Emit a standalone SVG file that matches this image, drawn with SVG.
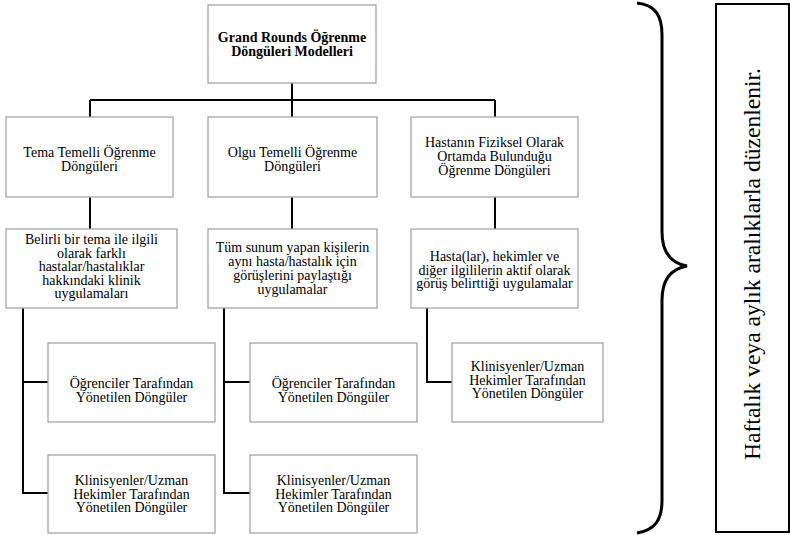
<svg xmlns="http://www.w3.org/2000/svg" width="791" height="535" viewBox="0 0 791 535">
<style>
.box{fill:#fff;stroke:#a6a6a6;stroke-width:1.3}
.t{font-family:"Liberation Serif","Times New Roman",serif;font-size:14px;fill:#000;text-anchor:middle}
.b{font-weight:bold}
.c{fill:none;stroke:#000;stroke-width:2}
</style>
<rect width="791" height="535" fill="#fff"/>
<g id="connectors">
<path class="c" d="M292,83 V100 M90,100 H495 M90,100 V117 M292,100 V117 M495,100 V117"/>
<path class="c" d="M90,197 V229 M292,197 V229 M495,197 V229"/>
<path class="c" d="M23,308 V493 H48 M23,382 H48"/>
<path class="c" d="M224,308 V493 H250 M224,382 H250"/>
<path class="c" d="M427,308 V382 H452"/>
</g>
<g id="root">
<rect class="box" x="208" y="5" width="168" height="78"/>
<text class="t b"><tspan x="292" y="42">Grand Rounds Öğrenme</tspan><tspan x="292" y="56">Döngüleri Modelleri</tspan></text>
</g>
<g id="tema">
<rect class="box" x="6" y="117" width="167" height="80"/>
<text class="t"><tspan x="89.5" y="157">Tema Temelli  Öğrenme</tspan><tspan x="89.5" y="171">Döngüleri</tspan></text>
</g>
<g id="olgu">
<rect class="box" x="208" y="117" width="169" height="80"/>
<text class="t"><tspan x="292.5" y="157">Olgu Temelli  Öğrenme</tspan><tspan x="292.5" y="171">Döngüleri</tspan></text>
</g>
<g id="hasta">
<rect class="box" x="411" y="117" width="167" height="80"/>
<text class="t"><tspan x="494.5" y="147">Hastanın Fiziksel Olarak</tspan><tspan x="494.5" y="161">Ortamda Bulunduğu</tspan><tspan x="494.5" y="175">Öğrenme Döngüleri</tspan></text>
</g>
<g id="tema-desc">
<rect class="box" x="6" y="229" width="171" height="79"/>
<text class="t"><tspan x="91.5" y="244">Belirli bir tema ile ilgili</tspan><tspan x="91.5" y="257.6">olarak farklı</tspan><tspan x="91.5" y="271.2">hastalar/hastalıklar</tspan><tspan x="91.5" y="284.8">hakkındaki klinik</tspan><tspan x="91.5" y="298.4">uygulamaları</tspan></text>
</g>
<g id="olgu-desc">
<rect class="box" x="208" y="229" width="169" height="79"/>
<text class="t"><tspan x="292.5" y="252">Tüm sunum yapan kişilerin</tspan><tspan x="292.5" y="266">aynı hasta/hastalık için</tspan><tspan x="292.5" y="280">görüşlerini paylaştığı</tspan><tspan x="292.5" y="294">uygulamalar</tspan></text>
</g>
<g id="hasta-desc">
<rect class="box" x="411" y="229" width="167" height="79"/>
<text class="t"><tspan x="494.5" y="261">Hasta(lar), hekimler ve</tspan><tspan x="494.5" y="274.5">diğer ilgililerin aktif olarak</tspan><tspan x="494.5" y="288">görüş belirttiği uygulamalar</tspan></text>
</g>
<g id="tema-ogrenci">
<rect class="box" x="48" y="343" width="167" height="79"/>
<text class="t"><tspan x="131.5" y="388">Öğrenciler Tarafından</tspan><tspan x="131.5" y="401.5">Yönetilen Döngüler</tspan></text>
</g>
<g id="tema-klinisyen">
<rect class="box" x="48" y="455" width="167" height="78"/>
<text class="t"><tspan x="131.5" y="485">Klinisyenler/Uzman</tspan><tspan x="131.5" y="498.5">Hekimler Tarafından</tspan><tspan x="131.5" y="512">Yönetilen Döngüler</tspan></text>
</g>
<g id="olgu-ogrenci">
<rect class="box" x="250" y="343" width="167" height="79"/>
<text class="t"><tspan x="333.5" y="388">Öğrenciler Tarafından</tspan><tspan x="333.5" y="401.5">Yönetilen Döngüler</tspan></text>
</g>
<g id="olgu-klinisyen">
<rect class="box" x="250" y="455" width="167" height="78"/>
<text class="t"><tspan x="333.5" y="485">Klinisyenler/Uzman</tspan><tspan x="333.5" y="498.5">Hekimler Tarafından</tspan><tspan x="333.5" y="512">Yönetilen Döngüler</tspan></text>
</g>
<g id="hasta-klinisyen">
<rect class="box" x="452" y="343" width="151" height="79"/>
<text class="t"><tspan x="527.5" y="371">Klinisyenler/Uzman</tspan><tspan x="527.5" y="384.5">Hekimler Tarafından</tspan><tspan x="527.5" y="398">Yönetilen Döngüler</tspan></text>
</g>
<g id="brace">
<path d="M637,3 C655,5 662,15 662,35 L662,232 C662,252 670,263 687,266 C670,269 662,280 662,300 L662,500 C662,520 655,530 637,533" fill="none" stroke="#000" stroke-width="3"/>
</g>
<g id="note">
<rect x="716" y="4" width="73" height="528" fill="#fff" stroke="#000" stroke-width="2"/>
<text class="t" style="font-size:24px" transform="translate(760,264) rotate(-90)" x="0" y="0" textLength="392" lengthAdjust="spacingAndGlyphs">Haftalık veya aylık aralıklarla düzenlenir.</text>
</g>
</svg>
